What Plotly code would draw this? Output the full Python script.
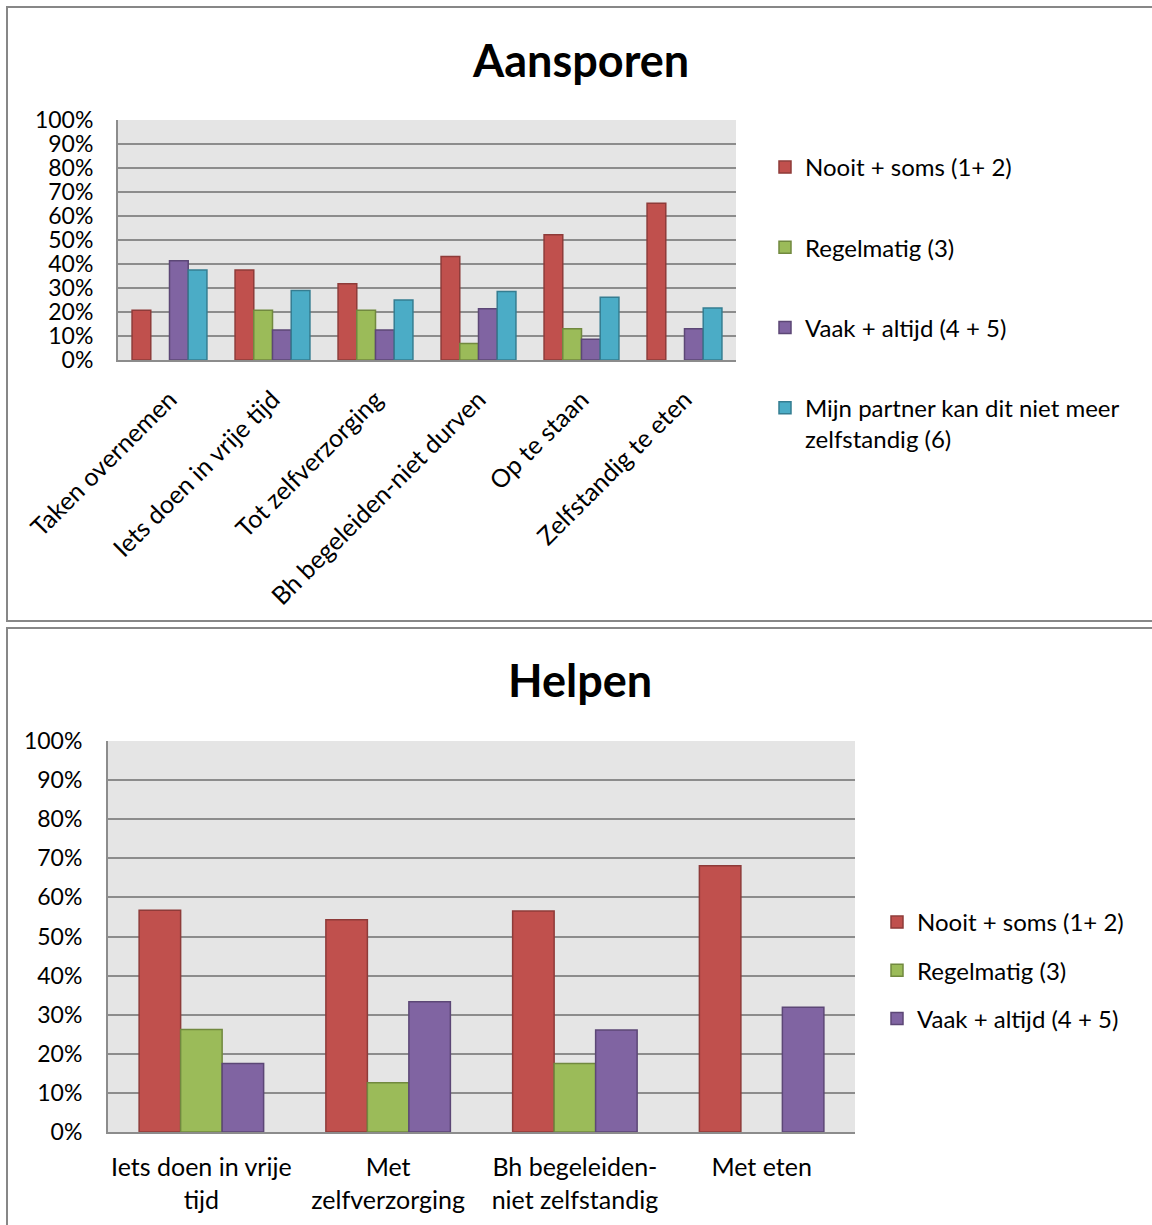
import plotly.graph_objects as go

# ---- data (percent of respondents) ----
cats_aansporen = ["Taken overnemen", "Iets doen in vrije tijd", "Tot zelfverzorging",
                  "Bh begeleiden-niet durven", "Op te staan", "Zelfstandig te eten"]
aan_nooit = [20.7, 37.5, 31.8, 43.1, 52.2, 65.3]
aan_regelmatig = [None, 20.7, 20.7, 6.9, 13.0, None]
aan_vaak = [41.4, 12.5, 12.5, 21.4, 8.6, 13.0]
aan_partner = [37.5, 29.0, 25.0, 28.5, 26.1, 21.7]

cats_helpen = ["Iets doen in vrije<br>tijd", "Met<br>zelfverzorging",
               "Bh begeleiden-<br>niet zelfstandig", "Met eten"]
help_nooit = [56.7, 54.3, 56.5, 68.1]
help_regelmatig = [26.2, 12.6, 17.5, None]
help_vaak = [17.5, 33.3, 26.1, 31.9]

series_names = ["Nooit + soms (1+ 2)", "Regelmatig (3)", "Vaak + altijd (4 + 5)",
                "Mijn partner kan dit niet meer<br>zelfstandig (6)"]

fills = ["#C0504D", "#9BBB59", "#8064A2", "#4BACC6"]
edges = ["#8E3B39", "#71893F", "#5C4776", "#357D91"]

FONT = "Lato, Carlito, sans-serif"
W, H = 1152, 1225

fig = go.Figure()

# top chart: four bars per category, Excel-style 150% gap width
top_series = [aan_nooit, aan_regelmatig, aan_vaak, aan_partner]
for i, vals in enumerate(top_series):
    fig.add_trace(go.Bar(
        x=cats_aansporen, y=vals, name=series_names[i],
        marker=dict(color=fills[i], line=dict(color=edges[i], width=1.5)),
        xaxis="x", yaxis="y", legend="legend", legendgroup=f"a{i}",
    ))

# bottom chart: three bars per category, same 150% gap width
bw = 1 / 4.5
bottom_series = [help_nooit, help_regelmatig, help_vaak]
for i, vals in enumerate(bottom_series):
    fig.add_trace(go.Bar(
        x=cats_helpen, y=vals, name=series_names[i],
        width=bw, offset=-1.5 * bw + i * bw,
        marker=dict(color=fills[i], line=dict(color=edges[i], width=1.5)),
        xaxis="x2", yaxis="y2", legend="legend2", legendgroup=f"h{i}",
    ))

def px_x(a, b):
    return [a / W, b / W]

def px_y(top, bottom):
    return [1 - bottom / H, 1 - top / H]

grid = "#8C8C8C"
yax_common = dict(range=[0, 100], tickmode="linear", tick0=0, dtick=10, ticksuffix="%",
                  showgrid=True, gridcolor=grid, gridwidth=2,
                  showline=True, linecolor=grid, linewidth=2,
                  ticks="", zeroline=False, fixedrange=True, automargin=False)
xax_common = dict(showline=True, linecolor=grid, linewidth=2, ticks="",
                  showgrid=False, fixedrange=True, automargin=False)

fig.update_layout(
    width=W, height=H,
    margin=dict(l=0, r=0, t=0, b=0, autoexpand=False),
    paper_bgcolor="white",
    plot_bgcolor="#E5E5E5",
    font=dict(family=FONT, color="#000000"),
    barmode="group",
    bargap=0.273, bargroupgap=0,
    showlegend=True,
    xaxis=dict(domain=px_x(118, 736), anchor="y", tickangle=-45,
               tickfont=dict(size=25, family=FONT), ticklabelstandoff=13,
               **xax_common),
    yaxis=dict(domain=px_y(120, 360), anchor="x",
               tickfont=dict(size=23, family=FONT), ticklabelstandoff=18,
               **yax_common),
    xaxis2=dict(domain=px_x(108, 855), anchor="y2",
                tickfont=dict(size=25, family=FONT), ticklabelstandoff=12,
                **xax_common),
    yaxis2=dict(domain=px_y(741, 1132), anchor="x2",
                tickfont=dict(size=23, family=FONT), ticklabelstandoff=19,
                **yax_common),
    legend=dict(x=765 / W, y=1 - 145 / H, xanchor="left", yanchor="top",
                font=dict(size=24, family=FONT), tracegroupgap=46,
                valign="top", bgcolor="rgba(0,0,0,0)", itemclick=False),
    legend2=dict(x=877 / W, y=1 - 900 / H, xanchor="left", yanchor="top",
                 font=dict(size=24, family=FONT), tracegroupgap=14,
                 valign="top", bgcolor="rgba(0,0,0,0)", itemclick=False),
)

# the two chart frames
frame = dict(color="#878787", width=2)
fig.add_shape(type="rect", xref="paper", yref="paper",
              x0=7 / W, x1=1.02, y0=1 - 621 / H, y1=1 - 7 / H, line=frame,
              fillcolor="rgba(0,0,0,0)", layer="below")
fig.add_shape(type="rect", xref="paper", yref="paper",
              x0=7 / W, x1=1.02, y0=-0.02, y1=1 - 628 / H, line=frame,
              fillcolor="rgba(0,0,0,0)", layer="below")

# chart titles
for text, ypx in [("Aansporen", 60), ("Helpen", 680)]:
    fig.add_annotation(text=f"<b>{text}</b>", xref="paper", yref="paper",
                       x=580 / W, y=1 - ypx / H, xanchor="center", yanchor="middle",
                       showarrow=False, font=dict(size=45, family=FONT, color="#000000"))

fig.write_html("out.html")
